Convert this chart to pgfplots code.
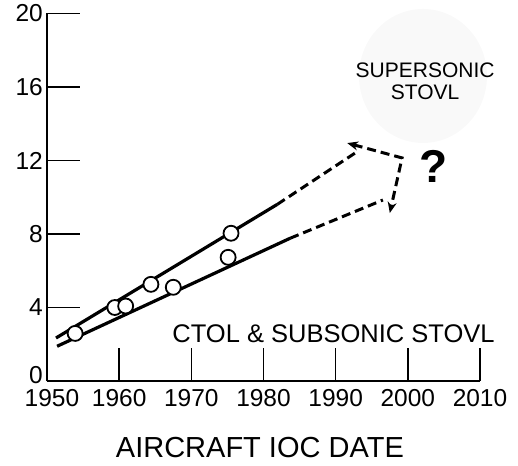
\documentclass[border=0pt]{standalone}
\usepackage{fontspec}
\setmainfont{Liberation Sans}
\usepackage{pgfplots}
\pgfplotsset{compat=1.18}
\usetikzlibrary{arrows.meta}
\begin{document}
\begin{tikzpicture}
\begin{axis}[
  at={(0pt,0pt)}, anchor=south west,
  scale only axis, width=433pt, height=367.5pt,
  xmin=1950, xmax=2010, ymin=0, ymax=20,
  xtick={1950,1960,...,2010}, ytick={0,4,...,20},
  xticklabels={\hspace*{10pt}1950,1960,1970,1980,1990,2000,2010},
  yticklabels={\raisebox{12pt}{0},4,8,12,16,\raisebox{-5pt}{20}},
  axis lines*=left,
  axis line style={line width=1.6pt},
  tick style={line width=1.6pt, black},
  major tick length=33pt, tick align=inside,
  /pgf/number format/1000 sep={},
  /pgf/number format/assume math mode=true,
  ticklabel style={font=\fontsize{24.5}{27}\selectfont},
  xticklabel style={inner sep=0pt, yshift=-8pt},
  yticklabel style={inner sep=0pt, xshift=-4pt},
  clip=false,
]
\fill[gray!5] (axis cs:2002.1,16.6) ellipse [x radius=64pt, y radius=67pt];
\node[align=center, font=\fontsize{21}{22}\selectfont] at (axis cs:2002.4,16.3) {SUPERSONIC\\STOVL};
\node[font=\fontsize{46}{50}\selectfont\bfseries] at (axis cs:2003.5,11.65) {?};
\node[font=\fontsize{25.5}{28}\selectfont] at (axis cs:1989.7,2.6) {CTOL \& SUBSONIC STOVL};
\node[font=\fontsize{29}{32}\selectfont] at (axis cs:1979.5,0) [yshift=-67pt] {AIRCRAFT IOC DATE};
% solid trend lines
\addplot[black, line width=3.2pt] coordinates {(1951.25,2.34) (1981.9,9.61)};
\addplot[black, line width=3.2pt] coordinates {(1951.4,1.89) (1983.7,7.77)};
% dashed extrapolations
\addplot[black, line width=3pt, dash pattern=on 9pt off 5pt] coordinates {(1981.9,9.61) (1992.9,12.46)};
\addplot[black, line width=3pt, dash pattern=on 9pt off 5pt] coordinates {(1983.7,7.77) (1996.55,9.85)};
\addplot[black, line width=3pt, dash pattern=on 9pt off 5pt, {Stealth[length=11pt,width=9pt]}-{Stealth[length=11pt,width=9pt]}] coordinates {(1991.6,12.95) (1999.2,12.14) (1997.5,9.14)};
% data points
\addplot[only marks, mark=*, mark size=7.5pt, mark options={fill=white, draw=black, line width=1.8pt}] coordinates {
(1953.9,2.59) (1959.4,4.0) (1960.9,4.08) (1964.4,5.26) (1967.5,5.10) (1975.1,6.73) (1975.5,8.04)
};
\end{axis}
\pgfresetboundingbox
\path (-47pt,-84pt) rectangle (471pt,381pt);
\end{tikzpicture}
\end{document}
